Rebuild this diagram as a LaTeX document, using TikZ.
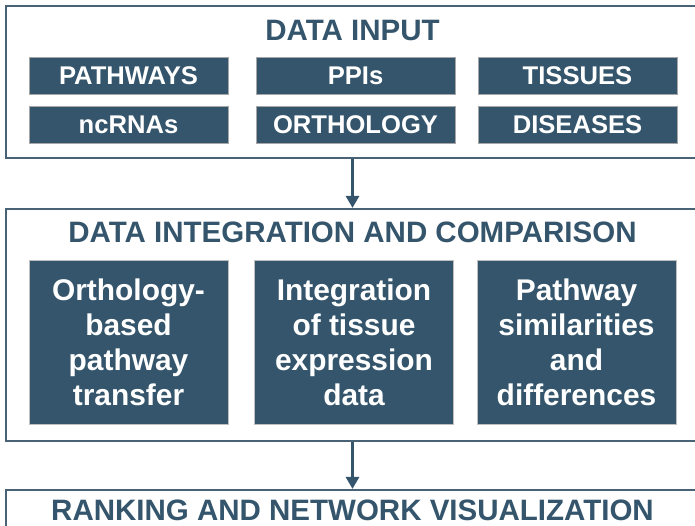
\documentclass[tikz,border=0pt]{standalone}
\usepackage{fontspec}
\setmainfont{Liberation Sans}
\usepackage{xcolor}
\usetikzlibrary{arrows.meta}

\definecolor{panel}{RGB}{52,85,107}
\definecolor{frame}{RGB}{72,98,118}

\tikzset{
  stagebox/.style={draw=frame, line width=2.2pt, fill=white, inner sep=0pt,
    minimum width=693pt},
  stagetitle/.style={text=panel, font=\bfseries\fontsize{29.5}{34}\selectfont},
  sourcebox/.style={draw=black!35, line width=0.6pt, fill=panel, text=white, inner sep=0pt,
    minimum width=199pt, minimum height=37pt, font=\bfseries\fontsize{25.6}{30}\selectfont},
  taskbox/.style={draw=black!25, line width=0.6pt, fill=panel, text=white, inner sep=0pt,
    align=center, minimum width=199pt, minimum height=164pt,
    font=\bfseries\fontsize{29.9}{35}\selectfont},
  flow/.style={draw=panel, line width=3.6pt, -{Triangle[width=13pt,length=12pt]}}
}

\begin{document}
\begin{tikzpicture}[x=1pt, y=-1pt]
        \useasboundingbox (0,0) rectangle (695,526);
        \clip (0,0) rectangle (695,526);

        % Input stage
        \node[stagebox, minimum height=152pt] (input) at (352.5,82) {};
        \node[stagetitle] (inputtitle) at (352.5,31) {DATA INPUT};
        \node[sourcebox] (pathways) at (128.5,75.5) {PATHWAYS};
        \node[sourcebox] (ppis) at (355.5,75.5) {PPIs};
        \node[sourcebox] (tissues) at (577.5,75.5) {TISSUES};
        \node[sourcebox] (ncrnas) at (128.5,124.5) {ncRNAs};
        \node[sourcebox] (orthology) at (355.5,124.5) {ORTHOLOGY};
        \node[sourcebox] (diseases) at (577.5,124.5) {DISEASES};

        % Integration stage
        \node[stagebox, minimum height=232pt] (integration) at (352.5,325) {};
        \node[stagetitle] (integrationtitle) at (352.5,232) {DATA INTEGRATION AND COMPARISON};
        \node[taskbox] (transfer) at (128.5,342) {Orthology-\\based\\pathway\\transfer};
        \node[taskbox] (expression) at (354,342) {Integration\\of tissue\\expression\\data};
        \node[taskbox] (similarity) at (576.5,342) {Pathway\\similarities\\and\\differences};

        % Ranking stage
        \node[stagebox, minimum height=80pt] (ranking) at (352.5,530) {};
        \node[stagetitle] (rankingtitle) at (352.5,510) {RANKING AND NETWORK VISUALIZATION};

        % Flow between stages
        \draw[flow] (input.south) -- (integration.north);
        \draw[flow] (integration.south) -- (ranking.north);
\end{tikzpicture}
\end{document}
